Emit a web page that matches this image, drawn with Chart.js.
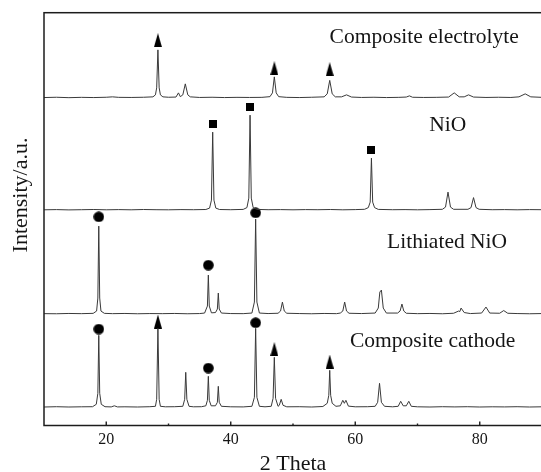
<!DOCTYPE html>
<html><head><meta charset="utf-8">
<script src="https://cdn.jsdelivr.net/npm/chart.js@4/dist/chart.umd.min.js"></script>
<style>
html,body{margin:0;padding:0;background:#fff;overflow:hidden;width:541px;height:472px}
#wrap{position:absolute;left:0;top:0;width:548px;height:472px}
</style></head>
<body><div id="wrap"><canvas id="c" width="548" height="472"></canvas></div>
<script>
// ---------------- DATA ----------------
const seriesNames = ['Composite electrolyte', 'NiO', 'Lithiated NiO', 'Composite cathode'];
const xTickValues = [20, 40, 60, 80];
const xMinorTickValues = [30, 50, 70];

const electrolyteTheta = [10,12,14,16,18,20,21,22,24,26,27.5,27.9,28.1,28.3,28.5,28.7,29.1,30,31.2,31.6,31.9,32.3,32.7,33.1,33.5,35,37,39,41,43,45,46.3,46.7,47.0,47.3,47.7,49,51,53,55.0,55.5,55.9,56.3,56.8,57.8,58.6,59.4,61,63,65,67,68.2,68.7,69.2,71,73,75.0,75.9,76.7,77.5,78.2,79,81,83,85,86.3,87.3,88.2,90];
const electrolyteCounts = [0.3,0.6,0.2,0.5,0.3,0.6,1.0,0.5,0.4,0.6,1.0,3,10,48,10,3,1,0.6,0.8,5,1.2,3,14,3,1,0.4,0.6,0.3,0.5,0.4,0.5,1.2,5,21,5,1.2,0.5,0.3,0.6,1,4,17.5,4,1,1,3,0.8,0.4,0.6,0.3,0.5,0.8,2,0.6,0.4,0.5,0.8,5,1,1,3,0.8,0.4,0.6,0.4,1,4,1,0.5];

const nioTheta = [10,12,14,16,18,20,22,24,26,28,30,32,34,36.0,36.6,36.9,37.1,37.3,37.6,38.2,40,42.0,42.6,42.9,43.1,43.3,43.6,44.2,46,48,50,52,54,56,58,60,61.5,62.1,62.4,62.6,62.8,63.1,63.7,66,68,70,72,74.0,74.5,74.9,75.3,75.8,78.1,78.6,79.0,79.4,79.9,82,84,86,88,90];
const nioCounts = [0.3,0.5,0.2,0.4,0.6,0.3,0.5,0.3,0.6,0.4,0.3,0.5,0.4,0.6,2,10,78,10,2,0.6,0.4,0.7,2.5,12,95,12,2.5,0.7,0.4,0.5,0.3,0.5,0.4,0.6,0.3,0.5,0.8,2.5,8,52,8,2.5,0.7,0.4,0.5,0.3,0.5,0.8,3,18,3,0.8,0.8,2.5,12.5,2.5,0.8,0.4,0.5,0.3,0.5,0.4];

const lithiatedTheta = [10,12,14,16,17.9,18.45,18.65,18.8,18.95,19.15,19.7,21,23,25,27,29,31,33,35,35.8,36.25,36.4,36.55,36.9,37.55,37.85,38.0,38.15,38.5,40,42,43.4,43.8,44.0,44.2,44.6,46,47.6,48.0,48.3,48.6,49.0,51,53,55,57,57.6,58.0,58.3,58.6,59.0,61,63.2,63.7,63.95,64.2,64.5,65.0,66.8,67.2,67.5,67.8,68.2,70,72,74,75.8,76.6,76.8,77.0,77.5,78.5,80.3,81.0,81.6,83.2,83.85,84.5,86,88,90];
const lithiatedCounts = [0.4,0.3,0.6,0.4,0.7,3,16,88,16,3,0.7,0.4,0.6,0.3,0.5,0.4,0.6,0.3,0.5,1,8,39,8,1.2,1.5,5,21,5,1,0.5,0.4,1,12,95,12,1,0.5,0.8,3,12,3,0.8,0.5,0.3,0.6,0.4,1,3,12,3,0.8,0.5,1,6,22,24,6,1,1,3,10,3,0.8,0.4,0.6,0.3,0.8,3,2.5,6,1.5,0.5,1,7,1,0.8,3.5,0.8,0.5,0.3,0.5];

const cathodeTheta = [10,12,14,16,17.8,18.4,18.65,18.8,18.95,19.2,19.8,20.8,21.3,21.8,23,25,27,27.9,28.1,28.3,28.5,28.7,29.5,31,32.3,32.6,32.77,32.95,33.3,34,35.3,36.0,36.25,36.4,36.55,36.85,37.55,37.85,38.0,38.15,38.5,40,42,43.4,43.8,44.0,44.2,44.6,45.5,46.5,46.8,47.0,47.2,47.6,47.8,48.1,48.4,49,51,53,54.8,55.5,55.75,55.9,56.05,56.3,56.9,57.6,58.0,58.25,58.5,58.9,60,62,63.2,63.6,63.9,64.2,64.7,66,66.9,67.3,67.7,68.2,68.6,69.0,70,72,74,76,78,80,82,84,86,88,90];
const cathodeCounts = [0.3,0.6,0.3,0.5,0.6,3,14,72,14,3,0.6,0.4,1.5,0.4,0.5,0.3,0.6,1,8,79,8,1,0.5,0.6,1,8,35,8,1,0.5,0.6,1.5,7,31,7,1.5,1.5,5,21,5,1,0.5,0.4,1,10,79,10,1,0.5,1,9,50,9,1,2,8,2,0.5,0.6,0.3,0.8,4,12,37,12,4,1,1.5,7,4,7,1.2,0.5,0.6,1,5,24,5,1,0.5,1,6,1.5,1.5,6,1,0.5,0.3,0.6,0.4,0.6,0.3,0.5,0.4,0.6,0.3,0.5];

// phase markers: theta and height above each pattern's baseline
const electrolyteMarkTheta = [28.3, 47.0, 55.9];
const electrolyteMarkLevel = [57.7, 29.7, 28.7];
const nioMarkTheta = [37.1, 43.1, 62.6];
const nioMarkLevel = [86, 103, 59.7];
const lithiatedMarkTheta = [18.8, 36.4, 44.0];
const lithiatedMarkLevel = [97.3, 49, 101.3];
const cathodeCircleTheta = [18.8, 36.4, 44.0];
const cathodeCircleLevel = [78.3, 39.3, 84.6];
const cathodeTriangleTheta = [28.3, 47.0, 55.9];
const cathodeTriangleLevel = [85.8, 58.3, 45.8];

// ---------------- LAYOUT / STYLE ----------------
const seriesOffsets = [327.8, 215.5, 111.5, 18.2];
const labelAnchors = [[71.08, 382.2], [74.86, 294.5], [74.75, 177.5], [72.44, 78.8]];
const FONT = '"Liberation Serif","Times New Roman",Times,serif';
const LINE = '#3a3a3a';
const INK = '#151515';

function shape(kind) {
  const c = document.createElement('canvas');
  const g = c.getContext('2d');
  g.fillStyle = '#000';
  if (kind === 'tri') {
    c.width = 8; c.height = 14;
    g.fillStyle = '#000';
    g.beginPath(); g.moveTo(4, 0); g.lineTo(8, 14); g.lineTo(0, 14); g.closePath(); g.fill();
  } else if (kind === 'sq') {
    c.width = 8; c.height = 8;
    g.fillStyle = '#000';
    g.fillRect(0, 0, 8, 8);
  } else {
    c.width = 11; c.height = 11;
    g.fillStyle = '#000';
    g.beginPath(); g.arc(5.5, 5.5, 5.3, 0, Math.PI * 2); g.fill();
  }
  return c;
}
const TRI = shape('tri'), SQ = shape('sq'), CIR = shape('cir');

function pattern(theta, counts, off) { return theta.map((t, i) => ({x: t, y: counts[i] + off})); }
function marks(theta, level, off) { return theta.map((t, i) => ({x: t, y: level[i] + off})); }

const lineDs = (label, data) => ({type: 'line', label, data, borderColor: LINE, borderWidth: 1, pointRadius: 0, tension: 0, fill: false});
const markDs = (label, data, img) => ({type: 'scatter', label, data, pointStyle: img, pointRadius: 6, showLine: false, borderWidth: 0});

const datasets = [
  lineDs(seriesNames[0], pattern(electrolyteTheta, electrolyteCounts, seriesOffsets[0])),
  lineDs(seriesNames[1], pattern(nioTheta, nioCounts, seriesOffsets[1])),
  lineDs(seriesNames[2], pattern(lithiatedTheta, lithiatedCounts, seriesOffsets[2])),
  lineDs(seriesNames[3], pattern(cathodeTheta, cathodeCounts, seriesOffsets[3])),
  markDs('electrolyte phase', marks(electrolyteMarkTheta, electrolyteMarkLevel, seriesOffsets[0]), TRI),
  markDs('NiO phase', marks(nioMarkTheta, nioMarkLevel, seriesOffsets[1]), SQ),
  markDs('lithiated NiO phase', marks(lithiatedMarkTheta, lithiatedMarkLevel, seriesOffsets[2]), CIR),
  markDs('cathode lithiated phase', marks(cathodeCircleTheta, cathodeCircleLevel, seriesOffsets[3]), CIR),
  markDs('cathode electrolyte phase', marks(cathodeTriangleTheta, cathodeTriangleLevel, seriesOffsets[3]), TRI)
];

const decor = {
  id: 'decor',
  afterDraw(chart) {
    const {ctx, chartArea: a, scales: {x, y}} = chart;
    ctx.save();
    // frame
    ctx.strokeStyle = '#1c1c1c';
    ctx.lineWidth = 1.5;
    ctx.strokeRect(a.left, a.top, a.right - a.left, a.bottom - a.top);
    // inward ticks
    ctx.lineWidth = 1.4;
    xTickValues.forEach(v => { const px = x.getPixelForValue(v); ctx.beginPath(); ctx.moveTo(px, a.bottom); ctx.lineTo(px, a.bottom - 4); ctx.stroke(); });
    xMinorTickValues.forEach(v => { const px = x.getPixelForValue(v); ctx.beginPath(); ctx.moveTo(px, a.bottom); ctx.lineTo(px, a.bottom - 2); ctx.stroke(); });
    // pattern labels
    ctx.fillStyle = INK;
    ctx.font = '21.5px ' + FONT;
    ctx.textAlign = 'center';
    ctx.textBaseline = 'alphabetic';
    seriesNames.forEach((n, i) => ctx.fillText(n, x.getPixelForValue(labelAnchors[i][0]), y.getPixelForValue(labelAnchors[i][1])));
    // y axis title
    ctx.translate(26.7, 195);
    ctx.rotate(-Math.PI / 2);
    ctx.font = '22px ' + FONT;
    ctx.fillText('Intensity/a.u.', 0, 0);
    ctx.restore();
  }
};

new Chart(document.getElementById('c'), {
  data: {datasets},
  options: {
    responsive: false,
    devicePixelRatio: 1,
    animation: false,
    events: [],
    layout: {padding: {top: 12.7, right: 2.4, left: 0, bottom: 0}},
    plugins: {legend: {display: false}, tooltip: {enabled: false}},
    scales: {
      x: {
        type: 'linear', min: 10, max: 90,
        afterBuildTicks: s => { s.ticks = xTickValues.map(v => ({value: v})); },
        afterFit: s => { s.height = 46.5; },
        grid: {display: false, drawTicks: false},
        border: {display: false},
        ticks: {font: {family: FONT, size: 16}, color: INK, padding: 5, maxRotation: 0},
        title: {display: true, text: '2 Theta', color: INK, font: {family: FONT, size: 22, lineHeight: 0.68}, padding: 0}
      },
      y: {
        type: 'linear', min: 0, max: 413,
        afterFit: s => { s.width = 44; },
        grid: {display: false, drawTicks: false},
        border: {display: false},
        ticks: {display: false}
      }
    }
  },
  plugins: [decor]
});
</script>
</body></html>
